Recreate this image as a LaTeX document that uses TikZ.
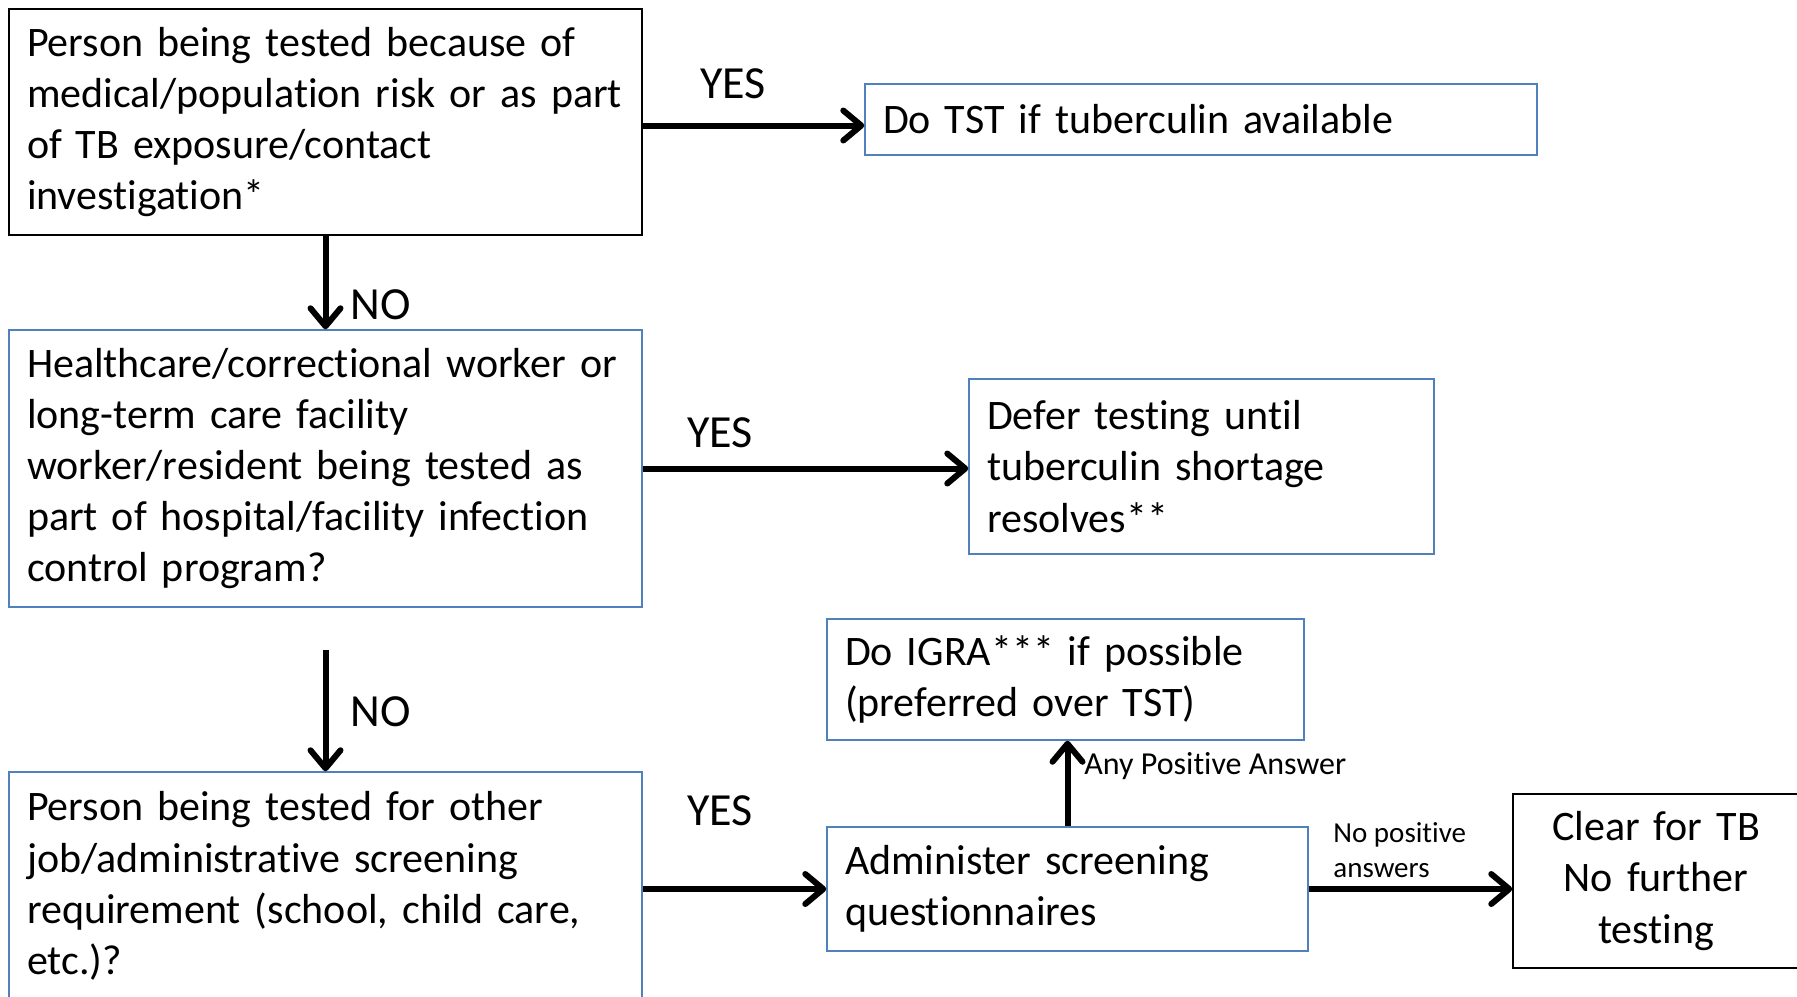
\documentclass[tikz,border=0pt]{standalone}
\usepackage{fontspec}
\setmainfont{Carlito}[Ligatures=NoCommon]
\usetikzlibrary{arrows.meta}
\definecolor{boxblue}{RGB}{79,129,189}
\tikzstyle{box}=[draw=black, line width=0.75pt, rectangle, inner xsep=9pt, inner ysep=0pt, align=left, font=\fontsize{21}{25.6}\selectfont]
\tikzstyle{bluebox}=[box, draw=boxblue]
\tikzstyle{flow}=[-{Straight Barb[length=9pt,width=15pt,round]}, line width=3pt]
\tikzstyle{answer}=[inner sep=0pt, font=\fontsize{23}{27}\selectfont]
\tikzstyle{smallanswer}=[inner sep=0pt, align=left, anchor=west, font=\fontsize{14.5}{17.5}\selectfont]

\begin{document}
\begin{tikzpicture}[x=0.5pt,y=-0.5pt]
  \useasboundingbox (0,0) rectangle (1797,996);
  % left column
  \node[box, minimum width=316.5pt, text width=298.5pt, minimum height=113pt] (risk) at (325.5,122)
    {Person being tested because of\\ medical/population risk or as part\\ of TB exposure/contact\\ investigation*};
  \node[bluebox, minimum width=316.5pt, text width=298.5pt, minimum height=138.5pt] (worker) at (325.5,468.5)
    {Healthcare/correctional worker or\\ long-term care facility\\ worker/resident being tested as\\ part of hospital/facility infection\\ control program?};
  \node[bluebox, minimum width=316.5pt, text width=298.5pt, minimum height=114pt] (job) at (325.5,886)
    {Person being tested for other\\ job/administrative screening\\ requirement (school, child care,\\ etc.)?};
  % right side
  \node[bluebox, minimum width=336pt, text width=318pt, minimum height=35.5pt] (tst) at (1201,119.5)
    {Do TST if tuberculin available};
  \node[bluebox, minimum width=232.5pt, text width=214.5pt, minimum height=87.5pt] (defer) at (1201.5,466.5)
    {Defer testing until\\ tuberculin shortage\\ resolves**};
  \node[bluebox, minimum width=238.5pt, text width=220.5pt, minimum height=60.5pt] (igra) at (1065.5,679.5)
    {Do IGRA*** if possible\\ (preferred over TST)};
  \node[bluebox, minimum width=240.5pt, text width=222.5pt, minimum height=62pt] (admin) at (1067.5,889)
    {Administer screening\\ questionnaires};
  \node[box, align=center, minimum width=143pt, text width=125pt, minimum height=87pt] (clear) at (1656,881)
    {Clear for TB\\ No further\\ testing};

  \coordinate (gap) at (325.5,650);
  \coordinate (tstin) at ([yshift=-3pt]tst.west);
  \draw[flow] (risk.east |- tstin) -- (tstin); %yes
  \draw[flow] (risk.south) -- (worker.north); %no
  \draw[flow] (worker.east) -- (worker.east -| defer.west); %yes
  \draw[flow] (gap) -- (job.north); %no
  \draw[flow] (job.east |- admin.west) -- (admin.west); %yes
  \draw[flow] (admin.north) -- (admin.north |- igra.south); %positive
  \draw[flow] (admin.east) -- (admin.east -| clear.west); %none

  \node[answer] (yes1) at (733,84) {YES};
  \node[answer, anchor=west] (no1) at (350,305) {NO};
  \node[answer] (yes2) at (720,433) {YES};
  \node[answer, anchor=west] (no2) at (350,712) {NO};
  \node[answer] (yes3) at (720,811) {YES};
  \node[smallanswer, font=\fontsize{16}{19}\selectfont] (anypos) at (1084,766) {Any Positive Answer};
  \node[smallanswer] (nopos) at (1333,850) {No positive\\ answers};
\end{tikzpicture}
\end{document}
